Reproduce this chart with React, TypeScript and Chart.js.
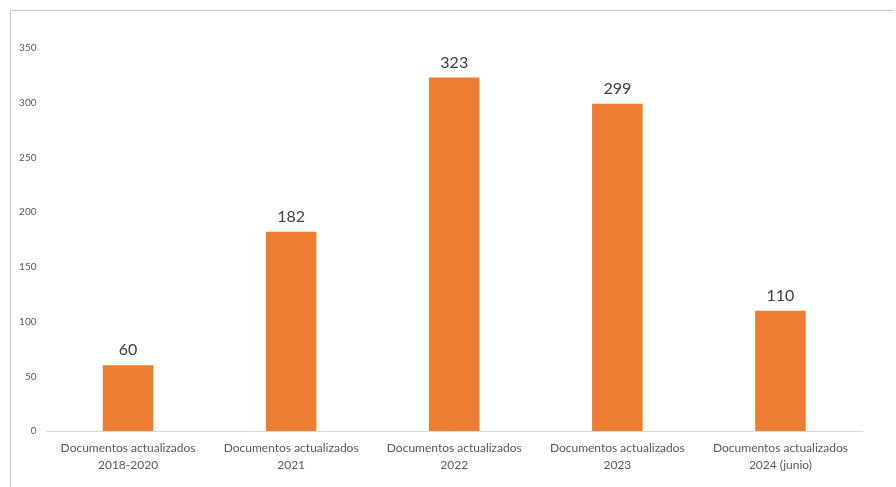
import React, { useEffect, useRef } from "react";
import { Chart, registerables } from "chart.js";

Chart.register(...registerables);

const categories: string[][] = [
  ["Documentos actualizados", "2018-2020"],
  ["Documentos actualizados", "2021"],
  ["Documentos actualizados", "2022"],
  ["Documentos actualizados", "2023"],
  ["Documentos actualizados", "2024 (junio)"],
];
const values: number[] = [60, 182, 323, 299, 110];
const yMin = 0;
const yMax = 350;
const yStep = 50;

const FONT = "Lato, 'Open Sans', 'Noto Sans', sans-serif";

const framePlugin = {
  id: "frame",
  beforeDraw(chart: any) {
    const ctx = chart.ctx;
    ctx.save();
    ctx.fillStyle = "#ffffff";
    ctx.fillRect(0, 0, chart.width, chart.height);
    ctx.strokeStyle = "#c8c8c8";
    ctx.lineWidth = 1;
    ctx.beginPath();
    ctx.moveTo(10.5, chart.height);
    ctx.lineTo(10.5, 10.5);
    ctx.lineTo(chart.width - 2, 10.5);
    ctx.stroke();
    ctx.restore();
  },
};

const labelPlugin = {
  id: "valueLabels",
  afterDatasetsDraw(chart: any) {
    const ctx = chart.ctx;
    const meta = chart.getDatasetMeta(0);
    ctx.save();
    ctx.font = `16px ${FONT}`;
    ctx.fillStyle = "#404040";
    ctx.textAlign = "center";
    ctx.textBaseline = "bottom";
    meta.data.forEach((bar: any, i: number) => {
      ctx.fillText(String(values[i]), bar.x, bar.y - 7);
    });
    ctx.restore();
  },
};

export default function App() {
  const ref = useRef<HTMLCanvasElement | null>(null);
  useEffect(() => {
    if (!ref.current) return;
    const chart = new Chart(ref.current, {
      type: "bar",
      data: {
        labels: categories,
        datasets: [
          {
            data: values,
            backgroundColor: "#ED7D31",
            borderWidth: 0,
            categoryPercentage: 1,
            barPercentage: 0.31,
          },
        ],
      },
      options: {
        animation: false,
        responsive: false,
        devicePixelRatio: 1,
        layout: { padding: { left: 10, right: 34, top: 48, bottom: 0 } },
        plugins: {
          legend: { display: false },
          tooltip: { enabled: false },
        },
        scales: {
          x: {
            grid: { display: false, drawTicks: false },
            border: { display: true, color: "#d9d9d9", width: 1 },
            ticks: {
              color: "#595959",
              font: { family: FONT, size: 12, lineHeight: 1.4 },
              padding: 9,
              maxRotation: 0,
              autoSkip: false,
            },
            afterFit(scale: any) {
              scale.height = 56;
            },
          },
          y: {
            min: yMin,
            max: yMax,
            grid: { display: false, drawTicks: false },
            border: { display: false },
            ticks: {
              stepSize: yStep,
              color: "#595959",
              font: { family: FONT, size: 10 },
              padding: 10,
            },
            afterFit(scale: any) {
              scale.width = 36.5;
            },
          },
        },
      },
      plugins: [framePlugin, labelPlugin],
    });
    return () => chart.destroy();
  }, []);
  return (
    <div style={{ position: "fixed", left: 0, top: 0, width: 896, height: 487 }}>
      <canvas ref={ref} width={896} height={487} style={{ display: "block" }} />
    </div>
  );
}
